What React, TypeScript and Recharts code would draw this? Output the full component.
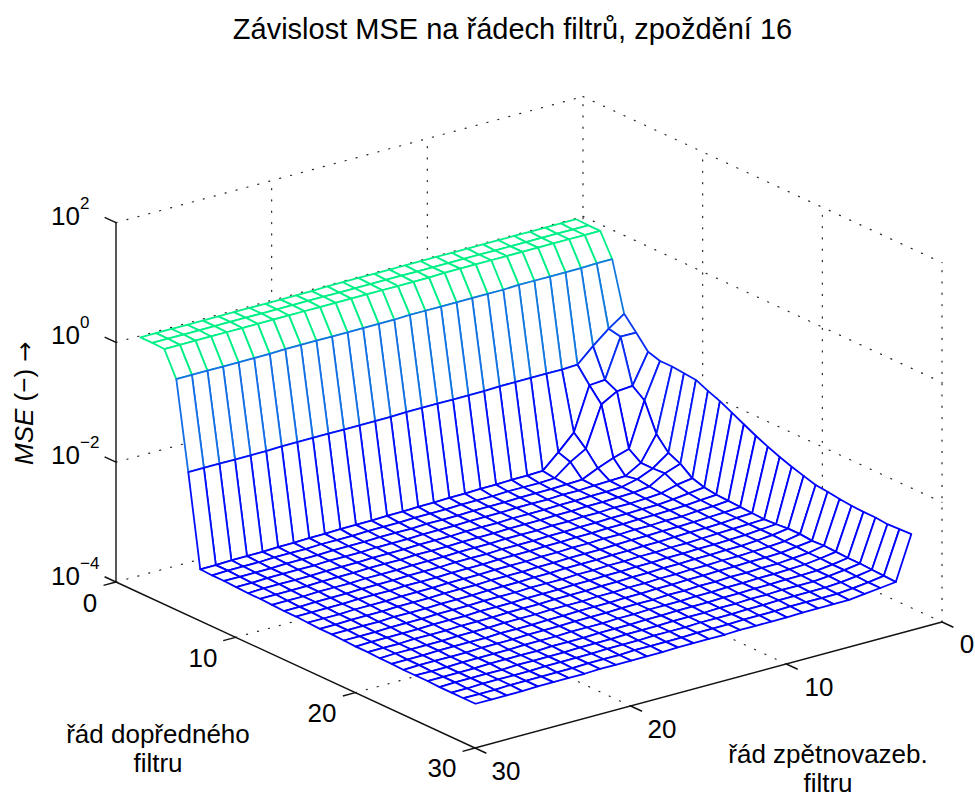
import React from 'react';
import { ScatterChart, Scatter, XAxis, YAxis } from 'recharts';

// log10(MSE), rows = forward filter order 1..29, columns = feedback order index 0..28
const row01 = [.13,.13,.13,.13,.13,.13,.13,.13,.13,.13,.13,.13,.13,.13,.13,.13,.13,.12,.12,.12,.12,.12,.12,.12,.12,.12,.12,.12,.12];
const row02 = [.12,.12,.12,.12,.12,.12,.12,.12,.12,.12,.12,.12,.12,.12,.12,.12,.12,.12,.12,.12,.12,.12,.12,.12,.12,.12,.12,.12,.12];
const row03 = [.12,.12,.12,.12,.12,.12,.12,.12,.12,.12,.12,.11,.11,.11,.11,.11,.11,.11,.11,.11,.11,.11,.11,.11,.11,.11,.11,.11,.11];
const row04 = [-.26,-.26,-.27,-.27,-.27,-.27,-.27,-.28,-.28,-.28,-.28,-.28,-.28,-.28,-.29,-.29,-.29,-.29,-.29,-.29,-.29,-.29,-.30,-.30,-.30,-.30,-.30,-.30,-.30];
const row05 = [-1.08,-1.26,-1.48,-1.72,-1.73,-1.73,-1.73,-1.73,-1.73,-1.74,-1.74,-1.74,-1.74,-1.74,-1.74,-1.75,-1.75,-1.75,-1.75,-1.75,-1.75,-1.75,-1.75,-1.76,-1.76,-1.76,-1.76,-1.76,-1.76];
const row06 = [-1.30,-1.30,-1.95,-1.97,-2.69,-2.95,-3.19,-3.20,-3.20,-3.21,-3.21,-3.22,-3.22,-3.23,-3.23,-3.24,-3.24,-3.25,-3.25,-3.25,-3.26,-3.26,-3.27,-3.27,-3.28,-3.28,-3.28,-3.29,-3.29];
const row07 = [-1.53,-2.03,-2.05,-2.20,-2.87,-3.02,-3.22,-3.23,-3.23,-3.23,-3.24,-3.24,-3.24,-3.25,-3.25,-3.25,-3.26,-3.26,-3.26,-3.27,-3.27,-3.27,-3.28,-3.28,-3.28,-3.29,-3.29,-3.29,-3.30];
const row08 = [-1.59,-2.18,-2.92,-3.00,-3.10,-3.22,-3.23,-3.24,-3.24,-3.24,-3.25,-3.25,-3.25,-3.26,-3.26,-3.26,-3.27,-3.27,-3.27,-3.28,-3.28,-3.28,-3.29,-3.29,-3.29,-3.30,-3.30,-3.30,-3.30];
const row09 = [-1.59,-2.65,-3.06,-3.21,-3.22,-3.23,-3.24,-3.24,-3.25,-3.25,-3.25,-3.26,-3.26,-3.26,-3.27,-3.27,-3.27,-3.28,-3.28,-3.28,-3.29,-3.29,-3.29,-3.30,-3.30,-3.30,-3.30,-3.31,-3.31];
const row10 = [-1.61,-2.87,-3.06,-3.17,-3.23,-3.24,-3.24,-3.25,-3.25,-3.26,-3.26,-3.26,-3.27,-3.27,-3.27,-3.28,-3.28,-3.28,-3.29,-3.29,-3.29,-3.30,-3.30,-3.30,-3.31,-3.31,-3.31,-3.31,-3.32];
const row11 = [-1.63,-2.96,-3.05,-3.20,-3.23,-3.24,-3.25,-3.25,-3.26,-3.26,-3.27,-3.27,-3.27,-3.28,-3.28,-3.28,-3.29,-3.29,-3.29,-3.30,-3.30,-3.30,-3.31,-3.31,-3.31,-3.32,-3.32,-3.32,-3.32];
const row12 = [-1.72,-3.11,-3.15,-3.22,-3.24,-3.25,-3.25,-3.26,-3.26,-3.27,-3.27,-3.28,-3.28,-3.28,-3.29,-3.29,-3.29,-3.30,-3.30,-3.30,-3.31,-3.31,-3.31,-3.32,-3.32,-3.32,-3.33,-3.33,-3.33];
const row13 = [-1.80,-3.17,-3.20,-3.23,-3.25,-3.25,-3.26,-3.26,-3.27,-3.27,-3.28,-3.28,-3.29,-3.29,-3.29,-3.30,-3.30,-3.30,-3.31,-3.31,-3.31,-3.32,-3.32,-3.32,-3.33,-3.33,-3.33,-3.34,-3.34];
const row14 = [-1.90,-3.20,-3.22,-3.24,-3.25,-3.26,-3.26,-3.27,-3.27,-3.28,-3.28,-3.29,-3.29,-3.30,-3.30,-3.30,-3.31,-3.31,-3.31,-3.32,-3.32,-3.32,-3.33,-3.33,-3.33,-3.34,-3.34,-3.34,-3.34];
const row15 = [-2.00,-3.21,-3.23,-3.24,-3.26,-3.26,-3.27,-3.27,-3.28,-3.28,-3.29,-3.29,-3.30,-3.30,-3.31,-3.31,-3.31,-3.32,-3.32,-3.32,-3.33,-3.33,-3.33,-3.34,-3.34,-3.34,-3.35,-3.35,-3.35];
const row16 = [-2.10,-3.22,-3.24,-3.25,-3.26,-3.27,-3.27,-3.28,-3.28,-3.29,-3.30,-3.30,-3.30,-3.31,-3.31,-3.32,-3.32,-3.32,-3.33,-3.33,-3.33,-3.34,-3.34,-3.34,-3.35,-3.35,-3.35,-3.36,-3.36];
const row17 = [-2.19,-3.23,-3.24,-3.26,-3.27,-3.27,-3.28,-3.29,-3.29,-3.30,-3.30,-3.31,-3.31,-3.31,-3.32,-3.32,-3.33,-3.33,-3.33,-3.34,-3.34,-3.34,-3.35,-3.35,-3.35,-3.36,-3.36,-3.36,-3.36];
const row18 = [-2.27,-3.24,-3.25,-3.26,-3.27,-3.28,-3.29,-3.29,-3.30,-3.30,-3.31,-3.31,-3.32,-3.32,-3.33,-3.33,-3.33,-3.34,-3.34,-3.34,-3.35,-3.35,-3.35,-3.36,-3.36,-3.36,-3.37,-3.37,-3.37];
const row19 = [-2.34,-3.23,-3.25,-3.27,-3.28,-3.29,-3.29,-3.30,-3.30,-3.31,-3.31,-3.32,-3.32,-3.33,-3.33,-3.34,-3.34,-3.34,-3.35,-3.35,-3.35,-3.36,-3.36,-3.36,-3.37,-3.37,-3.37,-3.37,-3.38];
const row20 = [-2.40,-3.21,-3.25,-3.27,-3.29,-3.29,-3.30,-3.30,-3.31,-3.31,-3.32,-3.32,-3.33,-3.33,-3.34,-3.34,-3.34,-3.35,-3.35,-3.35,-3.36,-3.36,-3.36,-3.37,-3.37,-3.37,-3.38,-3.38,-3.38];
const row21 = [-2.46,-3.21,-3.26,-3.28,-3.29,-3.30,-3.30,-3.31,-3.31,-3.32,-3.32,-3.33,-3.33,-3.34,-3.34,-3.35,-3.35,-3.35,-3.36,-3.36,-3.36,-3.37,-3.37,-3.37,-3.38,-3.38,-3.38,-3.38,-3.39];
const row22 = [-2.48,-3.23,-3.26,-3.29,-3.30,-3.30,-3.31,-3.31,-3.32,-3.32,-3.33,-3.33,-3.34,-3.34,-3.35,-3.35,-3.35,-3.36,-3.36,-3.37,-3.37,-3.37,-3.38,-3.38,-3.38,-3.38,-3.39,-3.39,-3.39];
const row23 = [-2.51,-3.22,-3.27,-3.29,-3.31,-3.31,-3.32,-3.32,-3.33,-3.33,-3.34,-3.34,-3.35,-3.35,-3.35,-3.36,-3.36,-3.36,-3.37,-3.37,-3.37,-3.38,-3.38,-3.38,-3.39,-3.39,-3.39,-3.39,-3.40];
const row24 = [-2.53,-3.23,-3.27,-3.30,-3.31,-3.32,-3.32,-3.33,-3.33,-3.34,-3.34,-3.35,-3.35,-3.35,-3.36,-3.36,-3.37,-3.37,-3.37,-3.38,-3.38,-3.38,-3.39,-3.39,-3.39,-3.39,-3.40,-3.40,-3.40];
const row25 = [-2.54,-3.24,-3.28,-3.31,-3.32,-3.32,-3.33,-3.33,-3.34,-3.34,-3.35,-3.35,-3.35,-3.36,-3.36,-3.37,-3.37,-3.37,-3.38,-3.38,-3.38,-3.39,-3.39,-3.39,-3.39,-3.40,-3.40,-3.40,-3.40];
const row26 = [-2.54,-3.24,-3.28,-3.31,-3.33,-3.33,-3.33,-3.34,-3.34,-3.35,-3.35,-3.36,-3.36,-3.36,-3.37,-3.37,-3.37,-3.38,-3.38,-3.38,-3.39,-3.39,-3.39,-3.39,-3.40,-3.40,-3.40,-3.40,-3.41];
const row27 = [-2.56,-3.25,-3.29,-3.32,-3.34,-3.34,-3.34,-3.34,-3.35,-3.35,-3.36,-3.36,-3.36,-3.37,-3.37,-3.37,-3.38,-3.38,-3.38,-3.39,-3.39,-3.39,-3.39,-3.40,-3.40,-3.40,-3.40,-3.41,-3.41];
const row28 = [-2.55,-3.26,-3.30,-3.33,-3.35,-3.35,-3.35,-3.35,-3.36,-3.36,-3.36,-3.37,-3.37,-3.37,-3.38,-3.38,-3.38,-3.38,-3.39,-3.39,-3.39,-3.40,-3.40,-3.40,-3.40,-3.40,-3.41,-3.41,-3.41];
const row29 = [-2.54,-3.27,-3.30,-3.33,-3.36,-3.36,-3.36,-3.36,-3.37,-3.37,-3.37,-3.37,-3.38,-3.38,-3.38,-3.38,-3.39,-3.39,-3.39,-3.39,-3.39,-3.40,-3.40,-3.40,-3.40,-3.41,-3.41,-3.41,-3.41];
const surface = [row01,row02,row03,row04,row05,row06,row07,row08,row09,row10,row11,row12,row13,row14,row15,row16,row17,row18,row19,row20,row21,row22,row23,row24,row25,row26,row27,row28,row29];

const forwardTicks = [0, 10, 20, 30];
const feedbackTicks = [0, 10, 20, 30];
const mseTicks = [-4, -2, 0, 2];

const TITLE = 'Závislost MSE na řádech filtrů, zpoždění 16';
const FONT = '"Liberation Sans", Arial, sans-serif';

// orthographic view of the axes box
const project = (f: number, b: number, z: number) => ({
  x: 583 + f * 11.967 - b * 15.567,
  y: 456 + f * 5.533 + b * 4.2 - (z + 4) * 59.9,
});
const F0 = 1;
const B0 = 1.2;

const mix = (a: number[], b: number[], t: number) => {
  const c = a.map((v, i) => Math.round(v + (b[i] - v) * t));
  return `rgb(${c[0]},${c[1]},${c[2]})`;
};
const colorOf = (z: number) => {
  if (z >= -0.3) return mix([20, 110, 230], [0, 240, 135], Math.min(1, (z + 0.3) / 0.4));
  return mix([0, 0, 255], [20, 110, 230], Math.max(0, (z + 2) / 1.7));
};

type Seg = { data: { x: number; y: number }[]; dashed: boolean };
const guides: Seg[] = [];
const seg = (a: number[], c: number[], dashed: boolean) => {
  guides.push({ data: [project(a[0], a[1], a[2]), project(c[0], c[1], c[2])], dashed });
};
// dotted grid on the two back walls and the floor
mseTicks.forEach((z) => {
  seg([0, 30, z], [0, 0, z], true);
  seg([0, 0, z], [30, 0, z], true);
});
feedbackTicks.filter((b) => b < 30).forEach((b) => seg([0, b, -4], [0, b, 2], true));
forwardTicks.filter((f) => f > 0).forEach((f) => seg([f, 0, -4], [f, 0, 2], true));
forwardTicks.filter((f) => f > 0 && f < 30).forEach((f) => seg([f, 30, -4], [f, 0, -4], true));
feedbackTicks.filter((b) => b > 0 && b < 30).forEach((b) => seg([30, b, -4], [0, b, -4], true));
// solid axes and ticks
seg([0, 30, -4], [0, 30, 2], false);
seg([0, 30, -4], [30, 30, -4], false);
seg([30, 30, -4], [30, 0, -4], false);
mseTicks.forEach((z) => seg([0, 30, z], [-0.95, 30, z], false));
forwardTicks.forEach((f) => seg([f, 30, -4], [f, 30.8, -4], false));
feedbackTicks.forEach((b) => seg([30, b, -4], [30.95, b, -4], false));

type Cell = { data: { x: number; y: number }[]; color: string };
const cells: Cell[] = [];
for (let i = 0; i < surface.length - 1; i++) {
  for (let j = 0; j < surface[i].length - 1; j++) {
    const p = (a: number, c: number) => project(F0 + a, B0 + c, surface[a][c]);
    cells.push({
      data: [p(i, j), p(i, j + 1), p(i + 1, j + 1), p(i + 1, j), p(i, j)],
      color: colorOf(surface[i][j]),
    });
  }
}

const noDot = () => null;

const Label = ({ x, y, size = 26, anchor = 'start', children }: any) => (
  <text x={x} y={y} fontSize={size} fontFamily={FONT} fill="#000" textAnchor={anchor}>
    {children}
  </text>
);

const zLabels = [
  { exp: '2', y: 225 },
  { exp: '0', y: 344 },
  { exp: '−2', y: 464 },
  { exp: '−4', y: 585 },
];
const forwardLabels = [
  { t: '0', x: 90, y: 612 },
  { t: '10', x: 203, y: 667 },
  { t: '20', x: 322, y: 722 },
  { t: '30', x: 442, y: 777 },
];
const feedbackLabels = [
  { t: '0', x: 967, y: 653 },
  { t: '10', x: 819, y: 696 },
  { t: '20', x: 662, y: 738 },
  { t: '30', x: 506, y: 780 },
];

export default function App() {
  return (
    <div style={{ position: 'absolute', left: 0, top: 0, width: 975, height: 798, overflow: 'hidden', background: '#fff' }}>
      <ScatterChart width={975} height={798} margin={{ top: 0, right: 0, bottom: 0, left: 0 }}>
        <XAxis type="number" dataKey="x" domain={[0, 975]} hide allowDataOverflow />
        <YAxis type="number" dataKey="y" domain={[0, 798]} reversed hide allowDataOverflow />
        {guides.map((g, i) => (
          <Scatter
            key={`g${i}`}
            data={g.data}
            isAnimationActive={false}
            shape={noDot}
            legendType="none"
            line={g.dashed
              ? { stroke: '#222', strokeWidth: 1.2, strokeDasharray: '1.1 10.2', strokeLinecap: 'round', fill: 'none' }
              : { stroke: '#111', strokeWidth: 1.4, fill: 'none' }}
          />
        ))}
        {cells.map((c, i) => (
          <Scatter
            key={`c${i}`}
            data={c.data}
            isAnimationActive={false}
            shape={noDot}
            legendType="none"
            line={{ stroke: c.color, strokeWidth: 1.8, fill: '#fff', strokeLinejoin: 'round' }}
          />
        ))}
        <Label x={512.5} y={39} anchor="middle" size={29}>{TITLE}</Label>
        {zLabels.map((l) => (
          <g key={l.exp}>
            <Label x={51} y={l.y}>10</Label>
            <Label x={80} y={l.y - 16} size={17}>{l.exp}</Label>
          </g>
        ))}
        {forwardLabels.concat(feedbackLabels).map((l) => (
          <Label key={`${l.t}-${l.x}`} x={l.x} y={l.y} anchor="middle">{l.t}</Label>
        ))}
        <Label x={158} y={743} anchor="middle">řád dopředného</Label>
        <Label x={158} y={772} anchor="middle">filtru</Label>
        <Label x={828} y={763} anchor="middle">řád zpětnovazeb.</Label>
        <Label x={828} y={792} anchor="middle">filtru</Label>
        <text transform="translate(33,465) rotate(-90)" fontSize={26} fontFamily={FONT} fill="#000">
          <tspan fontStyle="italic">MSE</tspan>
          <tspan> (−) </tspan>
          <tspan fontFamily="'DejaVu Sans'" fontSize={24}>→</tspan>
        </text>
      </ScatterChart>
    </div>
  );
}
